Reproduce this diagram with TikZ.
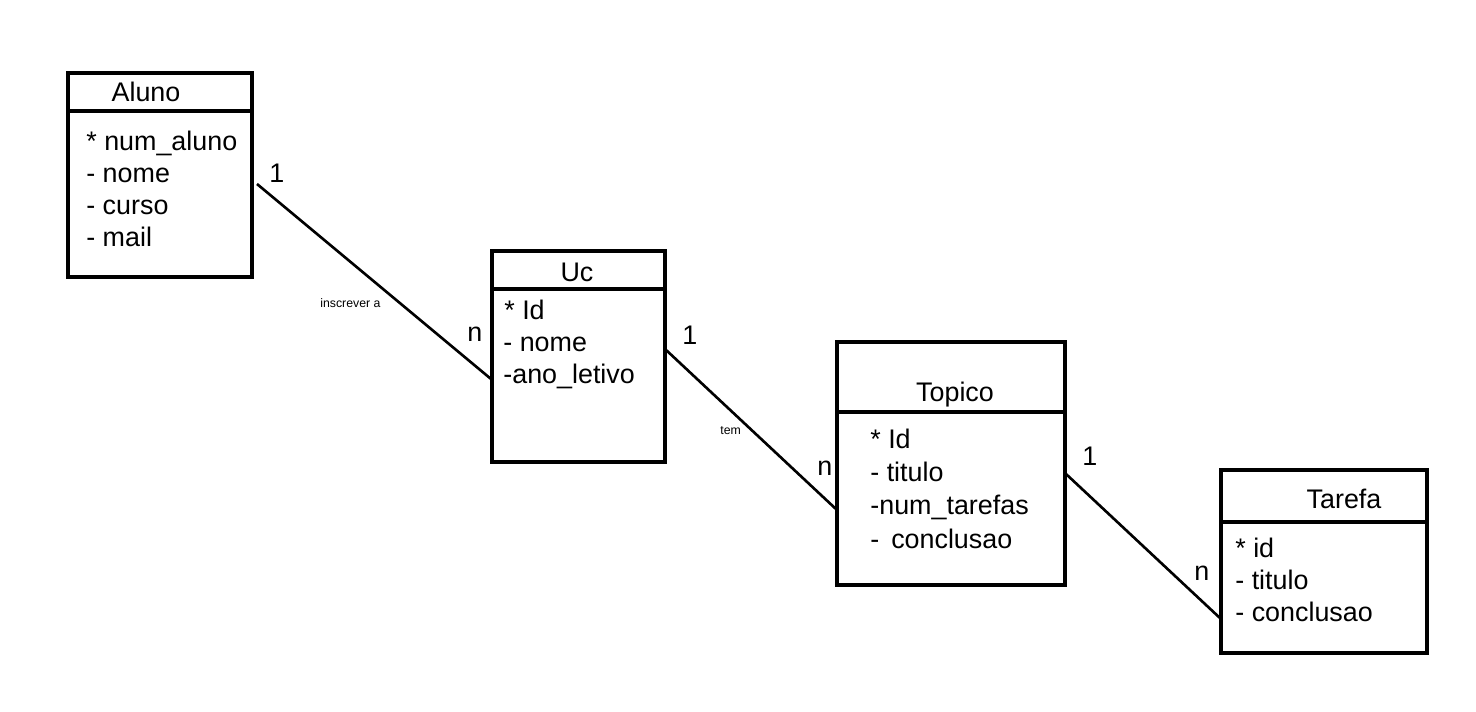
\documentclass[tikz,border=0pt]{standalone}
\usepackage{fontspec}
\setmainfont{Liberation Sans}
\usetikzlibrary{fit}

\begin{document}
\begin{tikzpicture}[x=0.02cm, y=-0.02cm,
  entity/.style={draw, line width=2pt, inner sep=0pt},
  divider/.style={line width=2pt},
  title/.style={anchor=base, inner sep=0pt, font=\fontsize{15.3}{18}\selectfont},
  attr/.style={anchor=base west, inner sep=0pt, font=\fontsize{15.3}{18}\selectfont},
  link/.style={line width=1.5pt},
  mult/.style={anchor=base west, inner sep=0pt, font=\fontsize{15.3}{18}\selectfont},
  role/.style={anchor=base west, inner sep=0pt, font=\fontsize{7}{8}\selectfont}]
  \useasboundingbox (0,0) rectangle (1476,712);

  % Aluno
  \node[entity, fit={(68,73) (252,277)}] (aluno) {};
  \draw[divider] (68,111) -- (252,111);
  \node[title] (alunoTitle) at (146,102) {Aluno};
  \node[attr] (alunoNum) at (86,151) {* num\_aluno};
  \node[attr] (alunoNome) at (86,183) {- nome};
  \node[attr] (alunoCurso) at (86,215) {- curso};
  \node[attr] (alunoMail) at (86,247) {- mail};

  % Uc
  \node[entity, fit={(492,251) (665,462)}] (uc) {};
  \draw[divider] (492,289) -- (665,289);
  \node[title] (ucTitle) at (577,282) {Uc};
  \node[attr] (ucId) at (504,320) {* Id};
  \node[attr] (ucNome) at (503,352) {- nome};
  \node[attr] (ucAno) at (503,384) {-ano\_letivo};

  % Topico
  \node[entity, fit={(837,342) (1065,585)}] (topico) {};
  \draw[divider] (837,412) -- (1067,412);
  \node[title] (topicoTitle) at (955,401) {Topico};
  \node[attr] (topicoId) at (870,448) {* Id};
  \node[attr] (topicoTitulo) at (870,481) {- titulo};
  \node[attr] (topicoNum) at (870,514) {-num\_tarefas};
  \node[attr] (topicoConcl) at (870,548) {-\, conclusao};

  % Tarefa
  \node[entity, fit={(1221,470) (1427,653)}] (tarefa) {};
  \draw[divider] (1221,522) -- (1429,522);
  \node[title] (tarefaTitle) at (1344,508) {Tarefa};
  \node[attr] (tarefaId) at (1235,557) {* id};
  \node[attr] (tarefaTitulo) at (1235,589) {- titulo};
  \node[attr] (tarefaConcl) at (1235,621) {- conclusao};

  % Ligacoes
  \coordinate (alunoOut) at (257,184);
  \coordinate (ucIn) at (491,379);
  \coordinate (ucOut) at (665,349);
  \coordinate (topicoIn) at (837,510);
  \coordinate (topicoOut) at (1066,474);
  \coordinate (tarefaIn) at (1221,619);
  \draw[link] (alunoOut) -- (ucIn);
  \draw[link] (ucOut) -- (topicoIn);
  \draw[link] (topicoOut) -- (tarefaIn);

  % Multiplicidades
  \node[mult] (m1a) at (269,183) {1};
  \node[mult] (m1b) at (467,342) {n};
  \node[mult] (m2a) at (682,345) {1};
  \node[mult] (m2b) at (817,475) {n};
  \node[mult] (m3a) at (1082,465) {1};
  \node[mult] (m3b) at (1194,580) {n};

  % Relacoes
  \node[role] (relInscrever) at (320,308) {inscrever a};
  \node[role] (relTem) at (720,435) {tem};
\end{tikzpicture}
\end{document}
